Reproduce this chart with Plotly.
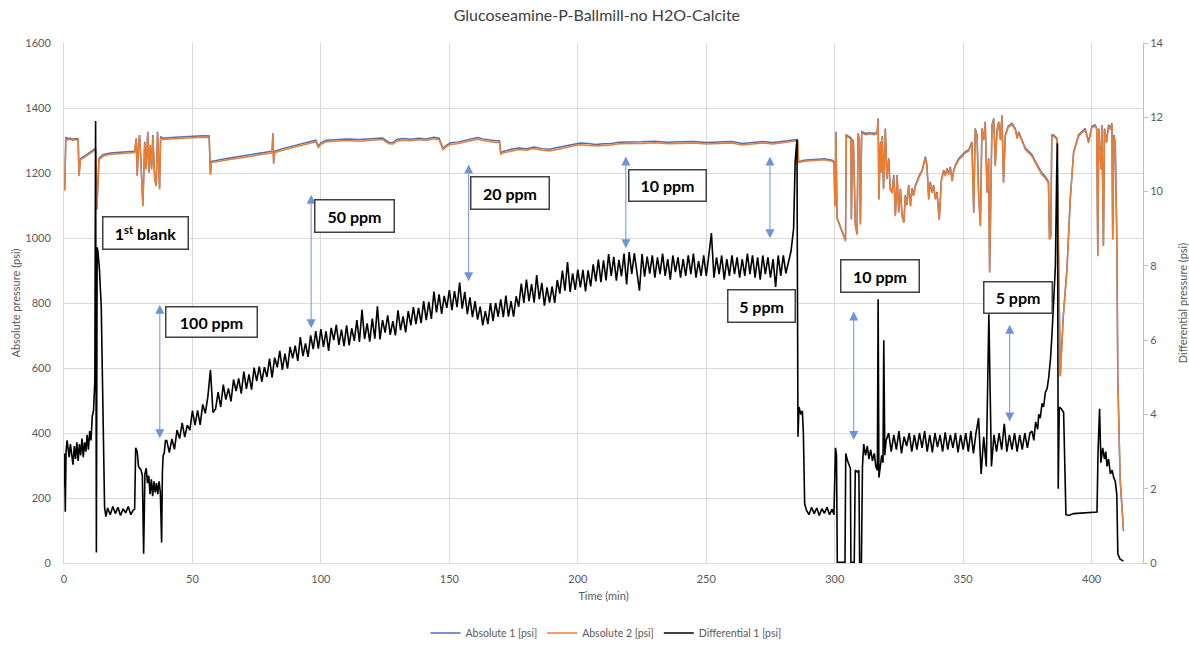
import plotly.graph_objects as go

# ---------------- data ----------------
# Absolute pressures (left axis, psi), sampled at irregular times (min)
abs_time = [
    0, 0.3, 0.7, 1.5, 2.5, 3.5, 4.5, 5.5, 5.85, 6.4,
    7.5, 9, 10.5, 11.5, 12.3, 12.8, 13.6, 15.2, 17, 19,
    21.7, 24, 26.8, 27.5, 28.1, 28.5, 29.0, 29.4, 29.9, 30.7,
    31.4, 32.0, 32.6, 33.1, 33.6, 34.1, 34.6, 35.3, 35.9, 36.4,
    37.2, 37.6, 38.5, 39.8, 42, 45, 48, 51, 54, 56.5,
    57.0, 57.4, 60, 65, 70, 75, 80, 81.0, 81.3, 81.6,
    82, 85, 90, 95, 98, 99, 100, 102, 105, 110,
    115, 120, 124, 126.5, 128, 129.5, 132, 135, 138, 141,
    144, 146, 147.5, 149, 150.5, 153, 156, 159, 161, 163,
    165.5, 168, 169.5, 170, 171, 174, 177, 180, 183, 186,
    189, 192, 195, 198, 201, 204, 207, 210, 213, 216,
    220, 225, 230, 235, 240, 245, 250, 255, 260, 264,
    268, 272, 276, 280, 283, 285.3, 285.6, 285.9, 288, 291,
    294, 296, 299, 299.7, 300.1, 300.5, 300.9, 301.6, 303, 304.2,
    304.5, 305.5, 306.3, 306.5, 306.9, 307.3, 308.0, 308.7, 309.1, 309.6,
    310.0, 310.5, 312, 313.5, 315.2, 316.5, 316.9, 317.2, 317.8, 318.2,
    318.5, 319.0, 319.7, 320.3, 321.0, 321.6, 322.3, 323.0, 323.6, 324.3,
    324.9, 325.6, 326.2, 326.9, 327.5, 328.1, 328.8, 329.5, 330.1, 330.7,
    331.4, 332.0, 332.7, 334.0, 335.3, 335.9, 336.6, 337.2, 337.9, 338.5,
    339.2, 339.8, 340.7, 341.5, 342.4, 343.1, 343.7, 344.4, 345.0, 345.7,
    346.3, 347.0, 348.3, 349.6, 350.9, 352.1, 353.4, 354.1, 354.7, 355.4,
    356.0, 356.7, 357.3, 358.0, 358.6, 359.3, 359.9, 360.3, 360.9, 361.2,
    361.9, 362.5, 363.2, 363.8, 364.5, 365.1, 365.7, 366.4, 367.5, 369,
    370.3, 371.0, 371.6, 372.9, 374.2, 375.5, 376.8, 378.1, 379.4, 380.6,
    381.9, 383.2, 383.6, 384.1, 384.5, 385.2, 386.5, 387.8, 389.0, 390.4,
    391.7, 393.0, 394.9, 397.5, 398.8, 400.1, 401.4, 402.0, 402.4, 402.8,
    403.4, 403.7, 404.0, 404.6, 405.0, 405.8, 406.6, 407.3, 407.9, 408.2,
    408.7, 409.2, 409.8, 410.2, 411.1, 412.4,
]

abs2_psi = [
    1145, 1149, 1306, 1302, 1304, 1300, 1303, 1301, 1190, 1241,
    1246, 1254, 1262, 1267, 1272, 1087, 1241, 1252, 1256, 1258,
    1260, 1262, 1264, 1263, 1303, 1190, 1285, 1313, 1241, 1097,
    1292, 1210, 1323, 1200, 1282, 1210, 1313, 1180, 1159, 1323,
    1149, 1308, 1303, 1303, 1305, 1306, 1308, 1309, 1310, 1309,
    1194, 1232, 1236, 1242, 1248, 1254, 1259, 1262, 1318, 1228,
    1262, 1270, 1280, 1290, 1296, 1278, 1288, 1296, 1298, 1300,
    1298, 1302, 1303, 1290, 1289, 1298, 1301, 1299, 1302, 1300,
    1305, 1302, 1272, 1282, 1288, 1290, 1296, 1300, 1304, 1300,
    1296, 1294, 1294, 1258, 1262, 1268, 1272, 1270, 1275, 1270,
    1268, 1272, 1278, 1283, 1287, 1286, 1283, 1285, 1286, 1290,
    1290, 1291, 1293, 1290, 1291, 1292, 1289, 1290, 1292, 1286,
    1290, 1292, 1289, 1293, 1296, 1299, 1296, 1232, 1236, 1238,
    1240, 1241, 1236, 1232, 1097, 1323, 1060, 1046, 1020, 990,
    1313, 1308, 1305, 1056, 1300, 1290, 1041, 1010, 1318, 1300,
    1041, 1323, 1318, 1320, 1318, 1320, 1364, 1118, 1292, 1200,
    1310, 1150, 1333, 1180, 1241, 1150, 1138, 1190, 1067, 1190,
    1077, 1149, 1067, 1046, 1128, 1100, 1159, 1097, 1149, 1130,
    1159, 1170, 1185, 1205, 1245, 1221, 1118, 1169, 1138, 1159,
    1118, 1138, 1055, 1174, 1205, 1190, 1210, 1195, 1215, 1174,
    1205, 1221, 1241, 1251, 1262, 1267, 1292, 1077, 1333, 1313,
    1138, 1036, 1333, 1300, 1354, 1138, 1241, 893, 1300, 1344,
    1364, 1221, 1330, 1354, 1300, 1374, 1169, 1313, 1340, 1349,
    1333, 1305, 1323, 1297, 1272, 1262, 1251, 1231, 1210, 1195,
    1185, 1169, 995, 1005, 1313, 1313, 1303, 574, 760, 902,
    1120, 1262, 1313, 1333, 1292, 1340, 1344, 1333, 944, 1333,
    1241, 1210, 1344, 975, 1333, 1292, 1344, 1333, 1349, 995,
    1313, 1292, 1000, 564, 256, 97,
]

abs1_psi = [
    1148, 1152, 1310, 1306, 1307, 1304, 1306, 1305, 1193, 1244,
    1250, 1258, 1266, 1271, 1276, 1090, 1245, 1256, 1260, 1262,
    1264, 1266, 1268, 1267, 1307, 1193, 1289, 1317, 1244, 1100,
    1296, 1213, 1327, 1203, 1286, 1213, 1317, 1183, 1162, 1327,
    1152, 1312, 1307, 1307, 1309, 1311, 1313, 1314, 1315, 1314,
    1197, 1236, 1240, 1247, 1253, 1259, 1264, 1267, 1322, 1231,
    1267, 1275, 1285, 1295, 1301, 1282, 1293, 1301, 1303, 1305,
    1303, 1307, 1308, 1294, 1293, 1303, 1306, 1304, 1307, 1305,
    1310, 1307, 1276, 1286, 1293, 1295, 1301, 1305, 1309, 1305,
    1301, 1299, 1299, 1262, 1266, 1273, 1277, 1275, 1280, 1275,
    1273, 1277, 1283, 1288, 1292, 1291, 1288, 1290, 1291, 1295,
    1295, 1296, 1298, 1295, 1296, 1297, 1294, 1295, 1297, 1291,
    1295, 1297, 1294, 1298, 1301, 1303, 1300, 1235, 1239, 1241,
    1243, 1244, 1239, 1235, 1100, 1327, 1063, 1049, 1023, 993,
    1317, 1312, 1309, 1059, 1304, 1294, 1044, 1013, 1322, 1304,
    1044, 1327, 1322, 1324, 1322, 1324, 1368, 1121, 1296, 1203,
    1314, 1153, 1337, 1183, 1245, 1153, 1141, 1194, 1070, 1194,
    1080, 1152, 1070, 1049, 1132, 1103, 1163, 1100, 1153, 1133,
    1163, 1174, 1189, 1209, 1250, 1225, 1121, 1173, 1141, 1163,
    1121, 1142, 1058, 1178, 1209, 1194, 1214, 1199, 1219, 1177,
    1209, 1225, 1245, 1255, 1266, 1271, 1296, 1080, 1337, 1317,
    1141, 1039, 1337, 1304, 1358, 1141, 1245, 896, 1304, 1348,
    1368, 1224, 1334, 1358, 1304, 1378, 1172, 1317, 1344, 1353,
    1337, 1309, 1327, 1302, 1277, 1267, 1256, 1236, 1215, 1200,
    1190, 1174, 998, 1008, 1317, 1317, 1307, 577, 763, 905,
    1124, 1266, 1317, 1337, 1296, 1344, 1348, 1337, 947, 1337,
    1245, 1213, 1348, 978, 1337, 1296, 1348, 1337, 1353, 998,
    1317, 1296, 1003, 567, 259, 100,
]

# Differential pressure (right axis, psi)
# start-up, 1st blank and 100 ppm injection (irregular times)
diff_start = [
    (0, 2.05), (0.2, 2.95), (0.5, 1.38), (0.8, 3.0), (1.2, 3.3),
    (2, 2.85), (2.5, 3.2), (3, 2.95), (3.5, 2.65), (4, 3.15),
    (4.5, 2.8), (5, 3.25), (5.5, 2.75), (6, 3.2), (6.5, 2.9),
    (7, 3.35), (7.5, 2.85), (8, 3.25), (8.5, 3.0), (9, 3.45),
    (9.5, 3.05), (10, 3.55), (10.5, 3.3), (11, 3.95), (11.5, 4.1),
    (12, 4.9), (12.3, 11.9), (12.6, 0.28), (12.9, 8.5), (13.2, 8.4),
    (13.8, 7.9), (14.5, 6.9), (15.0, 5.0), (15.8, 1.5), (16.3, 1.25),
    (17, 1.48), (18, 1.3), (19, 1.52), (20, 1.33), (21, 1.5),
    (22, 1.28), (23, 1.46), (24, 1.35), (25, 1.52), (26, 1.3),
    (26.9, 1.42), (27.5, 1.45), (27.9, 3.1), (28.5, 3.0), (29.0, 2.6),
    (29.5, 2.55), (30.0, 2.5), (30.5, 2.35), (31.0, 0.25), (31.5, 2.4),
    (32.0, 2.55), (32.5, 2.15), (33.0, 2.35), (33.5, 1.85), (34.0, 2.25),
    (34.5, 1.8), (35.0, 2.2), (35.5, 1.9), (36.0, 2.15), (36.5, 1.85),
    (37.0, 2.2), (37.5, 1.9), (38.0, 0.55), (38.3, 2.45), (38.6, 2.9),
    (39.0, 2.95), (39.5, 3.3),
]

# one reading per minute, t = 40 ... 283
diff_minutely_start = 40
diff_minutely = [
    3.30, 2.97, 3.34, 3.06, 3.58, 3.35, 3.77, 3.39, 3.71, 3.58,
    4.10, 3.71, 4.11, 3.72, 4.27, 4.03, 4.48, 5.20, 4.05, 4.15,
    4.60, 4.20, 4.80, 4.40, 4.70, 4.35, 4.94, 4.63, 4.97, 4.56,
    5.15, 4.69, 5.08, 4.67, 5.26, 4.90, 5.29, 4.88, 5.27, 5.01,
    5.50, 4.99, 5.53, 5.27, 5.71, 5.20, 5.64, 5.23, 5.82, 5.51,
    5.85, 5.44, 6.08, 5.57, 5.91, 5.55, 6.13, 5.76, 6.24, 5.77,
    6.30, 5.82, 6.24, 5.71, 6.33, 6.00, 6.41, 5.87, 6.28, 5.84,
    6.40, 5.86, 6.32, 5.98, 6.54, 5.95, 6.82, 6.03, 6.45, 5.96,
    6.58, 6.04, 6.91, 6.02, 6.54, 6.20, 6.67, 6.14, 6.51, 6.13,
    6.80, 6.27, 6.64, 6.21, 6.78, 6.40, 6.89, 6.43, 6.87, 6.46,
    7.05, 6.54, 7.03, 6.57, 7.31, 6.75, 7.23, 6.71, 7.19, 6.87,
    7.35, 6.81, 7.32, 6.89, 7.55, 6.85, 7.30, 6.70, 7.15, 6.62,
    7.05, 6.55, 6.90, 6.40, 6.78, 6.43, 7.00, 6.52, 7.00, 6.63,
    7.10, 6.62, 7.20, 6.63, 7.05, 6.63, 7.18, 6.90, 7.52, 7.00,
    7.63, 7.05, 7.51, 7.01, 7.75, 7.10, 7.54, 6.93, 7.42, 7.01,
    7.45, 7.00, 7.62, 7.25, 7.87, 7.33, 8.10, 7.30, 7.80, 7.35,
    7.90, 7.42, 7.89, 7.31, 7.88, 7.45, 8.04, 7.58, 8.17, 7.56,
    8.15, 7.61, 8.32, 7.73, 8.24, 7.60, 8.16, 7.72, 8.33, 7.50,
    8.37, 7.78, 8.34, 7.84, 7.33, 8.32, 7.71, 8.25, 7.79, 8.28,
    7.68, 8.23, 7.78, 8.33, 7.73, 8.18, 7.63, 8.28, 7.83, 8.23,
    7.68, 8.18, 7.73, 8.28, 7.78, 8.33, 7.68, 8.13, 7.73, 8.28,
    7.73, 8.28, 8.88, 7.68, 8.23, 7.78, 8.28, 7.63, 8.18, 7.73,
    8.28, 7.78, 8.23, 7.68, 8.18, 7.73, 8.33, 7.78, 8.28, 7.68,
    8.23, 7.63, 8.28, 7.78, 8.23, 7.68, 8.18, 7.43, 8.28, 7.73,
    8.28, 7.80, 8.15, 8.40,
]

# end of 5 ppm, 2nd blank and 10 ppm restart (irregular times)
diff_middle = [
    (284.0, 9.0), (284.6, 10.8), (285.3, 11.4), (285.7, 3.4), (286.1, 4.2),
    (286.8, 4.0), (287.4, 4.1), (287.8, 3.5), (288.3, 1.6), (289, 1.42),
    (290, 1.3), (291, 1.5), (292, 1.33), (293, 1.48), (294, 1.28),
    (295, 1.46), (296, 1.34), (297, 1.5), (298, 1.3), (299, 1.45),
    (299.7, 1.3), (300.3, 3.1), (300.7, 2.9), (301.0, 0.02), (304.0, 0.02),
    (304.3, 2.95), (305.0, 2.75), (305.6, 2.6), (306.1, 2.55), (306.3, 0.02),
    (307.6, 0.02), (308.0, 2.5), (308.8, 2.45), (309.4, 2.5), (309.7, 0.02),
    (310.4, 0.02), (310.8, 2.6), (311.3, 3.2), (312, 2.9), (312.7, 3.15),
    (313.3, 2.8), (314, 3.05), (314.7, 2.75), (315.4, 2.95), (316.0, 2.6),
    (316.6, 2.5), (316.9, 7.1), (317.2, 2.3), (317.7, 2.55), (318.3, 2.9),
    (318.8, 2.7), (319.1, 6.0), (319.5, 2.9), (320.0, 3.3),
]

# one reading per minute, t = 321 ... 376
diff_minutely2_start = 321
diff_minutely2 = [
    3.50, 3.00, 3.45, 3.05, 3.55, 2.95, 3.40, 3.15, 3.50, 3.00,
    3.45, 3.05, 3.50, 3.10, 3.55, 3.00, 3.45, 2.98, 3.50, 3.12,
    3.45, 3.00, 3.52, 3.05, 3.45, 3.10, 3.50, 2.98, 3.45, 3.05,
    3.50, 3.00, 3.55, 2.95, 3.50, 3.90, 2.40, 3.40, 2.60, 6.70,
    2.60, 3.45, 3.00, 3.50, 3.05, 3.75, 3.00, 3.45, 3.05, 3.50,
    3.00, 3.45, 3.05, 3.50, 3.10, 3.50,
]

# 5 ppm ramp, final blank and shut-down (irregular times)
diff_end = [
    (376.8, 3.55), (377.5, 3.3), (378.2, 3.8), (379.0, 3.6), (379.4, 4.0),
    (380.0, 3.9), (380.7, 4.3), (381.3, 4.2), (382.0, 4.6), (382.7, 4.7),
    (383.3, 5.0), (384.0, 5.5), (384.6, 6.2), (385.3, 7.0), (385.9, 8.0),
    (386.4, 10.5), (386.7, 11.3), (387.0, 2.0), (387.4, 4.2), (388.2, 4.15),
    (389.1, 4.05), (390.0, 1.3), (391.1, 1.28), (393, 1.33), (395, 1.34),
    (397, 1.35), (399, 1.36), (401, 1.36), (402.1, 1.37), (402.5, 3.0),
    (403.1, 4.15), (403.6, 2.7), (404.3, 3.1), (405.0, 2.8), (405.5, 3.0),
    (406.0, 2.6), (406.6, 2.8), (407.3, 2.4), (408.0, 2.5), (408.6, 2.3),
    (409.2, 2.2), (409.8, 1.85), (410.2, 0.25), (411.1, 0.1), (412.4, 0.05),
]

# Annotation content
box_labels = ["1<sup>st</sup> blank", "100 ppm", "50 ppm", "20 ppm",
              "10 ppm", "5 ppm", "10 ppm", "5 ppm"]
box_time = [31.8, 57.6, 113.0, 173.7, 234.9, 271.5, 317.5, 371.4]
box_level = [1015, 741, 1069, 1139.5, 1161, 790.5, 883, 818]
box_w = [86, 92, 80, 79, 78, 68, 79, 69]
box_h = [33, 31, 33, 33, 32, 33, 33, 32]

arrow_time = [37.3, 96.2, 157.5, 218.7, 274.8, 307.4, 368.1]
arrow_low = [379, 718, 862, 964, 995, 374, 431]
arrow_high = [795, 1133, 1226, 1251, 1251, 774, 733]

x_ticks = [0, 50, 100, 150, 200, 250, 300, 350, 400]

# ---------------- assemble differential series ----------------
diff_time = [p[0] for p in diff_start]
diff_psi = [p[1] for p in diff_start]
for i, v in enumerate(diff_minutely):
    diff_time.append(diff_minutely_start + i)
    diff_psi.append(v)
diff_time += [p[0] for p in diff_middle]
diff_psi += [p[1] for p in diff_middle]
for i, v in enumerate(diff_minutely2):
    diff_time.append(diff_minutely2_start + i)
    diff_psi.append(v)
diff_time += [p[0] for p in diff_end]
diff_psi += [p[1] for p in diff_end]

n_abs = min(len(abs_time), len(abs1_psi), len(abs2_psi))

FONT = "Lato, Carlito, Calibri, 'Open Sans', sans-serif"
GRID = "#d9d9d9"
TXT = "#595959"

fig = go.Figure()
fig.add_trace(go.Scatter(
    x=abs_time[:n_abs], y=abs1_psi[:n_abs], name="Absolute 1 [psi]",
    mode="lines", line=dict(color="#4472C4", width=1.5)))
fig.add_trace(go.Scatter(
    x=abs_time[:n_abs], y=abs2_psi[:n_abs], name="Absolute 2 [psi]",
    mode="lines", line=dict(color="#ED7D31", width=1.5)))
fig.add_trace(go.Scatter(
    x=diff_time, y=diff_psi, name="Differential 1 [psi]", yaxis="y2",
    mode="lines", line=dict(color="#000000", width=1.6)))

fig.update_layout(
    width=1189, height=646, autosize=False,
    margin=dict(l=64, r=46, t=43, b=83, autoexpand=False),
    paper_bgcolor="white", plot_bgcolor="white",
    font=dict(family=FONT, color=TXT, size=11),
    title=dict(text="Glucoseamine-P-Ballmill-no H2O-Calcite",
               x=0.502, xref="container", xanchor="center",
               y=1 - 15 / 646, yref="container", yanchor="middle",
               font=dict(family=FONT, size=16, color="#404040")),
    xaxis=dict(range=[0, 420], tickvals=x_ticks, showgrid=True,
               gridcolor=GRID, gridwidth=1, zeroline=False,
               showline=True, linecolor=GRID, ticks="", automargin=False,
               ticklabelstandoff=6,
               tickfont=dict(size=11, color=TXT),
               title=dict(text="Time (min)", standoff=8,
                          font=dict(size=11, color=TXT))),
    yaxis=dict(range=[0, 1600], dtick=200, showgrid=True, gridcolor=GRID,
               gridwidth=1, zeroline=False, showline=True, linecolor=GRID,
               ticks="", ticklabelstandoff=10, automargin=False,
               tickfont=dict(size=11, color=TXT),
               title=dict(text="Absolute pressure (psi)", standoff=2,
                          font=dict(size=11, color=TXT))),
    yaxis2=dict(range=[0, 14], dtick=2, overlaying="y", side="right",
                showgrid=False, zeroline=False, showline=True,
                linecolor="#bfbfbf", ticks="outside", ticklen=4,
                tickcolor="#bfbfbf", automargin=False,
                tickfont=dict(size=11, color=TXT),
                title=dict(text="Differential pressure (psi)", standoff=16,
                           font=dict(size=11, color=TXT))),
    legend=dict(orientation="h", x=606 / 1189, xref="container",
                xanchor="center", y=1 - 633 / 646, yref="container",
                yanchor="middle", font=dict(size=10.5, color=TXT),
                bgcolor="rgba(0,0,0,0)"),
    showlegend=True,
)

# double-headed arrows
for t, lo, hi in zip(arrow_time, arrow_low, arrow_high):
    fig.add_annotation(
        x=t, y=hi, ax=t, ay=lo, xref="x", yref="y", axref="x", ayref="y",
        text="", showarrow=True, arrowside="end+start",
        arrowhead=2, startarrowhead=2, arrowsize=1.8, startarrowsize=1.8,
        arrowwidth=1, arrowcolor="#6f94d6", standoff=0, startstandoff=0)

# labelled boxes
for lab, t, lv, w, h in zip(box_labels, box_time, box_level, box_w, box_h):
    fig.add_annotation(
        x=t, y=lv, xref="x", yref="y", text="<b>" + lab + "</b>",
        showarrow=False, bgcolor="white", bordercolor="#404040",
        borderwidth=1.5, borderpad=0, width=w - 2, height=h - 2,
        xanchor="center", yanchor="middle",
        font=dict(family=FONT, size=16, color="#000000"))

fig.write_html("out.html")
